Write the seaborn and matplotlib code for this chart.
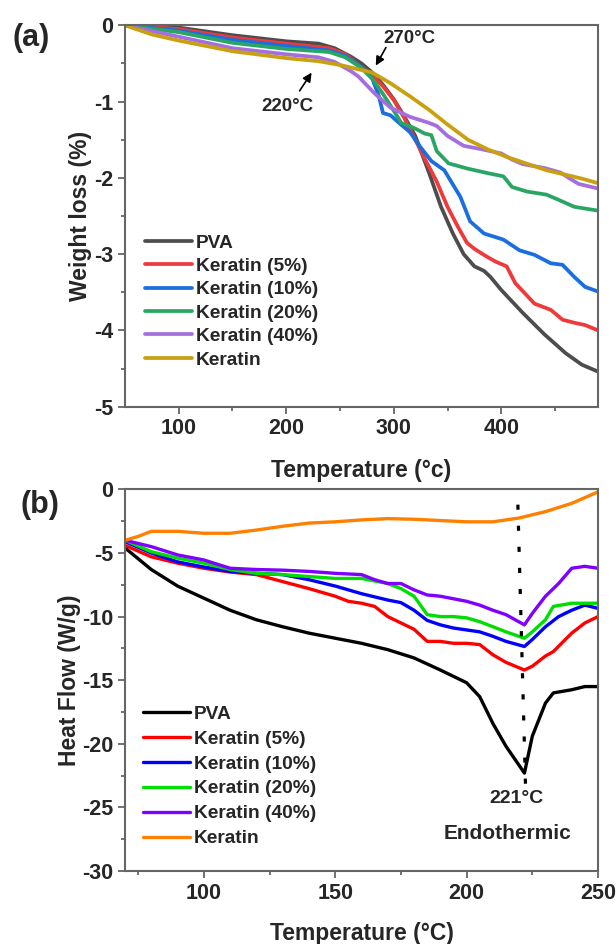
import numpy as np
import pandas as pd
import matplotlib
matplotlib.use("Agg")
import matplotlib.pyplot as plt
import seaborn as sns

# ---------------- data: (a) TGA ----------------
series_names = ["PVA", "Keratin (5%)", "Keratin (10%)", "Keratin (20%)", "Keratin (40%)", "Keratin"]

pva_T = [50, 75, 100, 150, 200, 230, 245, 260, 270, 280, 290, 300, 310, 320, 333, 344, 355, 365, 375, 384, 390, 400, 420, 440, 460, 475, 490]
pva_W = [0, -0.01, -0.03, -0.13, -0.21, -0.24, -0.3, -0.41, -0.5, -0.62, -0.78, -0.97, -1.2, -1.45, -1.94, -2.38, -2.73, -3.0, -3.16, -3.22, -3.3, -3.47, -3.77, -4.05, -4.3, -4.45, -4.54]

k5_T = [50, 100, 150, 200, 240, 255, 270, 280, 290, 300, 310, 320, 330, 340, 350, 360, 368, 375, 385, 395, 405, 413, 431, 446, 457, 468, 478, 490]
k5_W = [0, -0.05, -0.16, -0.24, -0.3, -0.38, -0.55, -0.65, -0.8, -0.98, -1.22, -1.5, -1.78, -2.05, -2.38, -2.65, -2.85, -2.93, -3.02, -3.1, -3.16, -3.38, -3.65, -3.73, -3.86, -3.9, -3.93, -4.0]

k10_T = [50, 100, 150, 200, 240, 255, 270, 280, 286, 290, 297, 305, 315, 325, 335, 347, 362, 371, 384, 402, 417, 431, 446, 457, 468, 478, 490]
k10_W = [0, -0.07, -0.19, -0.27, -0.33, -0.4, -0.55, -0.7, -0.92, -1.15, -1.18, -1.28, -1.4, -1.6, -1.78, -1.9, -2.25, -2.57, -2.73, -2.81, -2.95, -3.01, -3.12, -3.14, -3.3, -3.43, -3.49]

k20_T = [50, 100, 150, 200, 240, 255, 270, 280, 290, 300, 307, 318, 329, 335, 340, 351, 369, 388, 402, 410, 424, 442, 452, 468, 490]
k20_W = [0, -0.09, -0.23, -0.31, -0.35, -0.42, -0.56, -0.7, -0.9, -1.12, -1.28, -1.34, -1.42, -1.44, -1.65, -1.81, -1.88, -1.94, -1.98, -2.12, -2.18, -2.22, -2.28, -2.38, -2.43]

k40_T = [50, 100, 150, 200, 230, 245, 260, 267, 282, 297, 315, 333, 340, 350, 365, 380, 400, 410, 420, 440, 455, 465, 472, 490]
k40_W = [0, -0.15, -0.3, -0.38, -0.42, -0.48, -0.6, -0.67, -0.89, -1.08, -1.2, -1.28, -1.32, -1.45, -1.58, -1.62, -1.68, -1.76, -1.82, -1.87, -1.93, -2.02, -2.08, -2.14]

ker_T = [50, 75, 100, 150, 200, 230, 250, 265, 280, 297, 315, 333, 350, 369, 388, 406, 425, 442, 460, 475, 490]
ker_W = [0, -0.12, -0.2, -0.34, -0.43, -0.47, -0.52, -0.57, -0.62, -0.76, -0.93, -1.11, -1.3, -1.5, -1.63, -1.73, -1.82, -1.9, -1.96, -2.01, -2.07]

# ---------------- data: (b) DSC ----------------
pva_dT = [70, 80, 90, 100, 110, 120, 130, 140, 150, 160, 170, 180, 190, 200, 205, 210, 215, 222, 225, 230, 233, 240, 245, 250]
pva_H = [-4.6, -6.3, -7.6, -8.55, -9.5, -10.25, -10.8, -11.3, -11.7, -12.1, -12.6, -13.25, -14.2, -15.2, -16.3, -18.4, -20.2, -22.3, -19.4, -16.8, -16.0, -15.75, -15.5, -15.5]

k5_dT = [70, 80, 90, 100, 110, 120, 130, 140, 150, 155, 160, 165, 170, 180, 185, 190, 195, 200, 205, 210, 215, 222, 225, 230, 233, 240, 245, 250]
k5_H = [-4.4, -5.3, -5.8, -6.2, -6.5, -6.7, -7.25, -7.8, -8.4, -8.8, -8.95, -9.2, -10.0, -11.0, -11.95, -11.95, -12.1, -12.1, -12.2, -13.0, -13.6, -14.2, -13.9, -13.1, -12.75, -11.3, -10.5, -10.0]

k10_dT = [70, 80, 90, 100, 110, 120, 130, 140, 150, 160, 170, 175, 180, 185, 190, 195, 200, 205, 210, 215, 222, 225, 230, 235, 240, 245, 250]
k10_H = [-4.1, -5.0, -5.7, -6.1, -6.45, -6.6, -6.7, -7.1, -7.6, -8.2, -8.7, -8.9, -9.5, -10.3, -10.65, -10.9, -11.05, -11.2, -11.55, -11.95, -12.35, -11.8, -10.8, -10.0, -9.5, -9.1, -9.35]

k20_dT = [70, 80, 90, 100, 110, 120, 130, 140, 150, 160, 170, 175, 180, 185, 190, 195, 200, 205, 210, 215, 222, 225, 230, 233, 240, 250]
k20_H = [-4.0, -4.9, -5.4, -5.8, -6.3, -6.6, -6.7, -6.85, -7.0, -7.0, -7.4, -7.8, -8.4, -9.85, -10.0, -10.0, -10.1, -10.4, -10.8, -11.2, -11.7, -11.2, -10.25, -9.2, -8.95, -8.95]

k40_dT = [70, 80, 90, 100, 110, 120, 130, 140, 150, 160, 165, 170, 175, 180, 185, 190, 200, 205, 210, 215, 222, 225, 230, 235, 240, 245, 250]
k40_H = [-4.0, -4.5, -5.15, -5.55, -6.2, -6.3, -6.35, -6.45, -6.6, -6.7, -7.1, -7.4, -7.4, -7.9, -8.3, -8.4, -8.8, -9.1, -9.5, -9.85, -10.65, -9.75, -8.4, -7.4, -6.2, -6.05, -6.2]

ker_dT = [70, 75, 80, 90, 100, 110, 120, 130, 140, 150, 160, 170, 180, 190, 200, 210, 220, 230, 240, 250]
ker_H = [-4.0, -3.7, -3.3, -3.3, -3.45, -3.45, -3.2, -2.9, -2.65, -2.55, -2.4, -2.3, -2.35, -2.45, -2.55, -2.55, -2.25, -1.75, -1.1, -0.2]

# annotation values
vline_T = [219.5, 222.4]
vline_H = [-1.2, -23.2]

colors_a = ["#4d4d4d", "#ee3a3a", "#1a6ee0", "#2aa564", "#a56ee0", "#c9a00f"]
colors_b = ["#000000", "#ff0000", "#0000ff", "#00dd00", "#8000ff", "#ff8000"]

# ---------------- tidy tables ----------------
def make_df(Ts, Vs, xname, yname):
    frames = []
    for name, t, v in zip(series_names, Ts, Vs):
        frames.append(pd.DataFrame({xname: t, yname: v, "Sample": name}))
    return pd.concat(frames, ignore_index=True)

df_a = make_df([pva_T, k5_T, k10_T, k20_T, k40_T, ker_T],
               [pva_W, k5_W, k10_W, k20_W, k40_W, ker_W], "T", "W")
df_b = make_df([pva_dT, k5_dT, k10_dT, k20_dT, k40_dT, ker_dT],
               [pva_H, k5_H, k10_H, k20_H, k40_H, ker_H], "T", "H")

# ---------------- style ----------------
sns.set_style("ticks")
plt.rcParams["font.family"] = ["Liberation Sans", "DejaVu Sans"]
plt.rcParams["font.weight"] = "bold"
plt.rcParams["axes.labelweight"] = "bold"
plt.rcParams["axes.unicode_minus"] = False

SPINE = "#666666"

fig = plt.figure(figsize=(6.16, 9.44), dpi=100)
ax1 = fig.add_axes([0.2029, 0.5692, 0.7679, 0.4040])
ax2 = fig.add_axes([0.2029, 0.0773, 0.7679, 0.4043])

sns.lineplot(data=df_a, x="T", y="W", hue="Sample", hue_order=series_names,
             palette=colors_a, sort=False, estimator=None, lw=2.7, ax=ax1)
sns.lineplot(data=df_b, x="T", y="H", hue="Sample", hue_order=series_names,
             palette=colors_b, sort=False, estimator=None, lw=2.4, ax=ax2)

def style_axes(ax):
    for s in ax.spines.values():
        s.set_visible(True)
        s.set_color(SPINE)
        s.set_linewidth(1.5)
    ax.tick_params(which="major", direction="out", length=5, width=1.3, color=SPINE,
                   labelsize=15.5, top=False, right=False)
    ax.tick_params(which="minor", direction="out", length=3, width=1.3, color=SPINE,
                   top=False, right=False)
    for lab in ax.get_xticklabels() + ax.get_yticklabels():
        lab.set_fontweight("bold")

# panel (a)
ax1.set_xlim(50, 490)
ax1.set_ylim(-5, 0)
ax1.set_xticks([100, 200, 300, 400])
ax1.set_xticks([150, 250, 350, 450], minor=True)
ax1.set_yticks([0, -1, -2, -3, -4, -5])
ax1.set_yticks([-0.5, -1.5, -2.5, -3.5, -4.5], minor=True)
ax1.set_xlabel("Temperature (\u00b0c)", fontsize=16.5, fontweight="bold", labelpad=14)
ax1.set_ylabel("Weight loss (%)", fontsize=16.5, fontweight="bold", labelpad=1.5)
style_axes(ax1)

ax1.annotate("", xy=(282, -0.56), xytext=(294, -0.26),
             arrowprops=dict(arrowstyle="-|>", color="black", lw=1.2, mutation_scale=13))
ax1.annotate("", xy=(225, -0.59), xytext=(211, -0.89),
             arrowprops=dict(arrowstyle="-|>", color="black", lw=1.2, mutation_scale=13))
ax1.text(315, -0.17, "270\u00b0C", fontsize=13.5, fontweight="bold", ha="center", va="center")
ax1.text(201, -1.07, "220\u00b0C", fontsize=13.5, fontweight="bold", ha="center", va="center")

leg1 = ax1.legend(loc="upper left", bbox_to_anchor=(0.042, 0.452), frameon=False,
                  fontsize=13.8, handlelength=2.45, handletextpad=0.2, labelspacing=0.31,
                  borderpad=0, borderaxespad=0)
for t in leg1.get_texts():
    t.set_fontweight("bold")

# panel (b)
ax2.set_xlim(70, 250)
ax2.set_ylim(-30, 0)
ax2.set_xticks([100, 150, 200, 250])
ax2.set_xticks([75, 125, 175, 225], minor=True)
ax2.set_yticks([0, -5, -10, -15, -20, -25, -30])
ax2.set_yticks([-2.5, -7.5, -12.5, -17.5, -22.5, -27.5], minor=True)
ax2.set_xlabel("Temperature (\u00b0C)", fontsize=16.5, fontweight="bold", labelpad=13)
ax2.set_ylabel("Heat Flow (W/g)", fontsize=16.5, fontweight="bold", labelpad=1)
style_axes(ax2)

ax2.plot(vline_T, vline_H, color="black", lw=2.3, linestyle=(0, (1.6, 5)))
ax2.text(219.1, -24.3, "221\u00b0C", fontsize=14, fontweight="bold", ha="center", va="center")
ax2.text(215.4, -27.07, "Endothermic", fontsize=15, fontweight="bold", ha="center", va="center")

leg2 = ax2.legend(loc="upper left", bbox_to_anchor=(0.038, 0.434), frameon=False,
                  fontsize=13.8, handlelength=2.45, handletextpad=0.2, labelspacing=0.39,
                  borderpad=0, borderaxespad=0)
for t in leg2.get_texts():
    t.set_fontweight("bold")

fig.text(13 / 616, 1 - 38 / 944, "(a)", fontsize=22, fontweight="bold", ha="left", va="center")
fig.text(21 / 616, 1 - 505 / 944, "(b)", fontsize=22, fontweight="bold", ha="left", va="center")

fig.savefig("out.png", dpi=100)
